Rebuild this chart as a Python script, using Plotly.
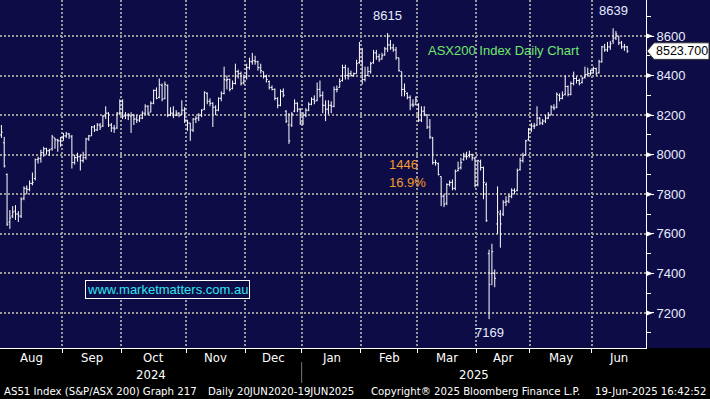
import plotly.graph_objects as go

# ---------------- data (ASX200 daily OHLC, Aug-2024 .. 19-Jun-2025) ----------------
month_names = ["Aug", "Sep", "Oct", "Nov", "Dec", "Jan", "Feb", "Mar", "Apr", "May", "Jun"]
month_bars = [22, 21, 23, 21, 20, 21, 20, 21, 19, 22, 13]
year_names = ["2024", "2025"]
year_months = [5, 6]
y_ticks = [7200, 7400, 7600, 7800, 8000, 8200, 8400, 8600]

opens = [
    8100, 8060, 7900, 7660, 7690, 7715, 7700, 7690, 7780, 7830, 7825, 7855, 7880, 7975, 7980, 8010, 8030, 8020, 8030, 8085, 8075, 8070,
    8085, 8095, 8105, 8090, 7960, 7985, 7990, 7970, 7985, 8080, 8095, 8140, 8125, 8150, 8145, 8195, 8210, 8150, 8135, 8135, 8210,
    8270, 8195, 8200, 8195, 8200, 8180, 8175, 8185, 8210, 8245, 8215, 8260, 8325, 8290, 8350, 8285, 8350, 8200, 8210, 8200, 8210, 8205, 8225,
    8175, 8160, 8125, 8180, 8185, 8200, 8230, 8310, 8270, 8260, 8240, 8225, 8285, 8310, 8375, 8380, 8335, 8360, 8420, 8410, 8365,
    8395, 8440, 8470, 8475, 8470, 8440, 8420, 8395, 8370, 8340, 8330, 8285, 8250, 8320, 8220, 8150, 8150, 8220, 8260, 8230,
    8160, 8200, 8225, 8255, 8280, 8275, 8330, 8300, 8250, 8230, 8250, 8245, 8330, 8340, 8375, 8440, 8400, 8410, 8400, 8410, 8465,
    8470, 8380, 8400, 8420, 8465, 8515, 8495, 8485, 8505, 8535, 8555, 8540, 8530, 8490, 8420, 8330, 8310, 8290, 8255, 8255,
    8255, 8175, 8220, 8200, 8140, 8085, 7960, 7955, 7890, 7790, 7755, 7850, 7860, 7830, 7920, 7935, 7975, 7990, 7995, 8000, 7980,
    7850, 7965, 7935, 7850, 7500, 7400, 7400, 7650, 7700, 7700, 7760, 7765, 7790, 7820, 7820, 7925, 7970, 8000, 8075,
    8125, 8145, 8150, 8185, 8160, 8170, 8185, 8200, 8240, 8240, 8300, 8285, 8305, 8345, 8305, 8360, 8385, 8375, 8365, 8390, 8405, 8410,
    8425, 8435, 8415, 8470, 8545, 8530, 8545, 8575, 8590, 8600, 8565, 8545, 8545,
]
highs = [
    8150, 8090, 7905, 7720, 7740, 7745, 7715, 7785, 7840, 7845, 7870, 7910, 7980, 7990, 8025, 8040, 8035, 8030, 8100, 8085, 8080, 8090,
    8110, 8115, 8110, 8100, 8000, 8010, 8000, 8015, 8085, 8100, 8145, 8150, 8160, 8160, 8200, 8245, 8215, 8160, 8150, 8215, 8280,
    8280, 8215, 8210, 8215, 8205, 8200, 8200, 8220, 8255, 8250, 8270, 8330, 8340, 8385, 8360, 8370, 8355, 8240, 8245, 8225, 8215, 8275, 8240,
    8175, 8160, 8185, 8195, 8210, 8230, 8320, 8315, 8285, 8265, 8250, 8290, 8320, 8445, 8400, 8385, 8375, 8460, 8430, 8420, 8405,
    8460, 8490, 8515, 8500, 8475, 8460, 8420, 8405, 8375, 8350, 8335, 8290, 8330, 8335, 8225, 8210, 8215, 8280, 8265, 8235,
    8215, 8235, 8265, 8290, 8300, 8365, 8375, 8320, 8275, 8275, 8270, 8345, 8350, 8385, 8455, 8455, 8440, 8425, 8415, 8480, 8570,
    8540, 8445, 8445, 8470, 8530, 8530, 8510, 8515, 8545, 8615, 8580, 8560, 8545, 8490, 8420, 8360, 8315, 8300, 8280, 8295,
    8260, 8245, 8245, 8205, 8180, 8090, 7975, 7960, 7890, 7800, 7855, 7870, 7875, 7925, 7965, 7985, 8010, 8015, 8020, 8005, 7990,
    7975, 7975, 7940, 7860, 7520, 7550, 7420, 7840, 7720, 7770, 7790, 7800, 7830, 7830, 7930, 7985, 8010, 8075, 8135,
    8160, 8160, 8245, 8190, 8180, 8200, 8215, 8250, 8255, 8315, 8310, 8320, 8400, 8350, 8370, 8420, 8395, 8385, 8395, 8445, 8440, 8430,
    8445, 8440, 8480, 8550, 8560, 8570, 8575, 8639, 8625, 8600, 8575, 8560, 8550,
]
lows = [
    8085, 7935, 7640, 7625, 7680, 7670, 7660, 7680, 7770, 7800, 7815, 7845, 7870, 7955, 7960, 7990, 8000, 7995, 8020, 8030, 8015, 8040,
    8070, 8085, 8080, 7930, 7950, 7965, 7920, 7960, 7975, 8070, 8095, 8115, 8120, 8125, 8140, 8180, 8140, 8115, 8110, 8130, 8200,
    8180, 8180, 8175, 8110, 8150, 8160, 8165, 8180, 8200, 8200, 8215, 8255, 8280, 8285, 8270, 8280, 8190, 8195, 8185, 8195, 8190, 8200, 8160,
    8120, 8070, 8115, 8160, 8170, 8190, 8225, 8255, 8245, 8140, 8200, 8220, 8270, 8305, 8330, 8320, 8330, 8355, 8385, 8350, 8355,
    8380, 8430, 8455, 8455, 8425, 8410, 8385, 8365, 8330, 8325, 8275, 8235, 8245, 8290, 8160, 8055, 8140, 8215, 8215, 8150,
    8150, 8190, 8220, 8250, 8255, 8270, 8290, 8210, 8170, 8205, 8210, 8240, 8315, 8340, 8370, 8380, 8380, 8395, 8395, 8410, 8460,
    8355, 8370, 8400, 8410, 8460, 8480, 8470, 8480, 8500, 8520, 8530, 8520, 8480, 8420, 8295, 8295, 8280, 8225, 8240, 8250,
    8165, 8165, 8195, 8130, 8080, 7950, 7945, 7895, 7740, 7735, 7745, 7840, 7820, 7820, 7915, 7925, 7970, 7975, 7985, 7970, 7835,
    7840, 7920, 7775, 7660, 7169, 7340, 7330, 7600, 7530, 7690, 7740, 7755, 7780, 7800, 7815, 7920, 7960, 7995, 8070,
    8115, 8130, 8145, 8150, 8150, 8160, 8180, 8200, 8225, 8235, 8270, 8280, 8300, 8295, 8300, 8350, 8360, 8350, 8360, 8385, 8395, 8400,
    8410, 8400, 8410, 8465, 8520, 8520, 8530, 8560, 8580, 8555, 8535, 8525, 8515,
]
closes = [
    8114, 7943, 7649, 7680, 7710, 7700, 7690, 7775, 7830, 7825, 7855, 7860, 7975, 7980, 8010, 8030, 8020, 8025, 8090, 8075, 8070, 8085,
    8095, 8105, 8095, 7960, 7985, 7990, 7970, 7985, 8080, 8095, 8140, 8125, 8150, 8140, 8195, 8210, 8150, 8135, 8130, 8210, 8270,
    8195, 8200, 8200, 8200, 8180, 8175, 8185, 8210, 8245, 8210, 8260, 8325, 8285, 8355, 8280, 8355, 8200, 8210, 8200, 8210, 8200, 8225, 8175,
    8160, 8125, 8180, 8185, 8200, 8225, 8315, 8270, 8260, 8240, 8225, 8285, 8310, 8380, 8380, 8330, 8360, 8420, 8410, 8360, 8390,
    8440, 8470, 8475, 8470, 8440, 8425, 8395, 8380, 8340, 8330, 8285, 8250, 8320, 8300, 8170, 8070, 8205, 8260, 8230, 8160,
    8200, 8225, 8255, 8280, 8270, 8330, 8300, 8250, 8230, 8250, 8245, 8330, 8330, 8370, 8440, 8400, 8410, 8400, 8410, 8460, 8530,
    8380, 8400, 8420, 8460, 8515, 8495, 8480, 8500, 8535, 8555, 8540, 8530, 8490, 8425, 8330, 8320, 8290, 8250, 8250, 8280,
    8175, 8220, 8205, 8140, 8090, 7960, 7960, 7900, 7790, 7750, 7850, 7860, 7830, 7915, 7930, 7960, 7990, 7990, 8000, 7985, 7845,
    7970, 7935, 7860, 7667, 7344, 7510, 7375, 7710, 7650, 7760, 7765, 7790, 7820, 7815, 7920, 7970, 7995, 8070, 8125,
    8145, 8145, 8185, 8160, 8170, 8185, 8200, 8240, 8235, 8305, 8285, 8300, 8345, 8305, 8360, 8385, 8375, 8360, 8385, 8405, 8410, 8425,
    8435, 8410, 8470, 8545, 8530, 8545, 8560, 8590, 8610, 8565, 8545, 8545, 8523.7,
]
last_price = 8523.7

n = sum(month_bars)
assert len(opens) == len(highs) == len(lows) == len(closes) == n, (len(opens), len(highs), len(lows), len(closes), n)

# ---------------- layout constants ----------------
W, H = 710, 399
ML, MR, MT, MB = 0, 64, 0, 51
PW = W - ML - MR          # 646
PH = H - MT - MB          # 348
XMIN, XMAX = -0.5, 228.66
YMIN, YMAX = 7023, 8782
NAVY = "#0e0c46"
GRID = "#9a9a9a"
NARROW = "Liberation Sans Narrow, DejaVu Sans Condensed, Arial Narrow, sans-serif"
SANS = "Liberation Sans, Arial, sans-serif"

def py_to_paper(py):
    return (PH - py) / PH

def px_to_paper(px):
    return px / PW

ypx = (YMAX - YMIN) / PH  # data units per pixel

x = list(range(n))
bounds = []
acc = 0
for m in month_bars[:-1]:
    acc += m
    bounds.append(acc - 0.5)
edges = [XMIN] + bounds + [XMAX]

fig = go.Figure()
fig.add_trace(go.Ohlc(
    x=x, open=opens, high=highs, low=lows, close=closes,
    increasing=dict(line=dict(color="white", width=1)),
    decreasing=dict(line=dict(color="white", width=1)),
    tickwidth=0.45, hoverinfo="skip", showlegend=False,
))

shapes = []
# navy strip behind the right axis
shapes.append(dict(type="rect", xref="paper", yref="paper", x0=1.0, x1=W / PW, y0=0, y1=1,
                   fillcolor=NAVY, line=dict(width=0), layer="below"))
# right-pointing triangles at major y ticks
for v in y_ticks:
    shapes.append(dict(type="path", xref="paper", yref="y",
                       path=f"M 1.0,{v - 2.8 * ypx} L {px_to_paper(653)},{v} L 1.0,{v + 2.8 * ypx} Z",
                       fillcolor="white", line=dict(color="white", width=0)))
# last-price tag
h = 8.3 * ypx
shapes.append(dict(type="path", xref="paper", yref="y",
                   path=(f"M {px_to_paper(647)},{last_price} L {px_to_paper(654)},{last_price + h} "
                         f"L {px_to_paper(709)},{last_price + h} L {px_to_paper(709)},{last_price - h} "
                         f"L {px_to_paper(654)},{last_price - h} Z"),
                   fillcolor="white", line=dict(color="#333333", width=1)))
# separator between years
shapes.append(dict(type="line", xref="x", yref="paper", x0=bounds[4], x1=bounds[4],
                   y0=py_to_paper(362), y1=py_to_paper(383), line=dict(color="#777777", width=1)))

ann = []
# month labels
for i, name in enumerate(month_names):
    ann.append(dict(x=(edges[i] + edges[i + 1]) / 2, y=py_to_paper(357), xref="x", yref="paper",
                    text=name, showarrow=False, xanchor="center", yanchor="middle",
                    font=dict(family=NARROW, size=13, color="white")))
# year labels
start = 0
for yn, cnt in zip(year_names, year_months):
    ann.append(dict(x=(edges[start] + edges[start + cnt]) / 2, y=py_to_paper(374), xref="x", yref="paper",
                    text=yn, showarrow=False, xanchor="center", yanchor="middle",
                    font=dict(family=NARROW, size=13, color="white")))
    start += cnt
# footer
footer = [
    ("AS51 Index (S&P/ASX 200) Graph 217", 2, "left"),
    ("Daily 20JUN2020-19JUN2025", 206, "left"),
    ("Copyright\u00ae 2025 Bloomberg Finance L.P.", 369, "left"),
    ("19-Jun-2025 16:42:52", 709, "right"),
]
for txt, px, anc in footer:
    ann.append(dict(x=px_to_paper(px), y=py_to_paper(391), xref="paper", yref="paper", text=txt,
                    showarrow=False, xanchor=anc, yanchor="middle",
                    font=dict(family=NARROW, size=11.3, color="white")))

# high / low labels
i_hi = max(range(n), key=lambda k: highs[k])
i_lo = min(range(n), key=lambda k: lows[k])
i_feb = max(range(127, 148), key=lambda k: highs[k])
LBL = "#e4ebff"
ann.append(dict(x=i_feb, y=highs[i_feb], text=f"{highs[i_feb]:.0f}", showarrow=False, yanchor="bottom",
                yshift=8, font=dict(family=SANS, size=13, color=LBL)))
ann.append(dict(x=i_hi, y=highs[i_hi], text=f"{highs[i_hi]:.0f}", showarrow=False, yanchor="bottom",
                yshift=8, font=dict(family=SANS, size=13, color=LBL)))
ann.append(dict(x=i_lo, y=lows[i_lo], text=f"{lows[i_lo]:.0f}", showarrow=False, yanchor="top",
                yshift=-4, font=dict(family=SANS, size=13, color=LBL)))
ORANGE = "#f39a2b"
ann.append(dict(x=136.8, y=7953, text=f"{highs[i_feb] - lows[i_lo]:.0f}", showarrow=False, xanchor="left",
                yanchor="middle", font=dict(family=SANS, size=13, color=ORANGE)))
ann.append(dict(x=136.8, y=7862, text="16.9%", showarrow=False, xanchor="left",
                yanchor="middle", font=dict(family=SANS, size=13, color=ORANGE)))
ann.append(dict(x=px_to_paper(426), y=py_to_paper(50), xref="paper", yref="paper",
                text="ASX200 Index Daily Chart", showarrow=False, xanchor="left", yanchor="middle",
                font=dict(family=SANS, size=13, color="#6ee86e")))
ann.append(dict(x=px_to_paper(167), y=py_to_paper(289.5), xref="paper", yref="paper",
                text="www.marketmatters.com.au", showarrow=False, xanchor="center", yanchor="middle",
                bordercolor="white", borderwidth=1, borderpad=1, bgcolor=NAVY,
                font=dict(family=SANS, size=13, color="#2fe6f2")))
# last price text
ann.append(dict(x=px_to_paper(681.5), y=last_price, xref="paper", yref="y", text=f"{last_price:.3f}",
                showarrow=False, xanchor="center", yanchor="middle",
                font=dict(family=SANS, size=12.5, color="black")))

fig.update_layout(
    width=W, height=H,
    margin=dict(l=ML, r=MR, t=MT, b=MB, pad=0, autoexpand=False),
    paper_bgcolor="black", plot_bgcolor=NAVY,
    showlegend=False, shapes=shapes, annotations=ann,
    xaxis=dict(range=[XMIN, XMAX], rangeslider=dict(visible=False), tickmode="array", tickvals=bounds,
               showticklabels=False, ticks="outside", ticklen=4, tickcolor="white", tickwidth=1,
               showgrid=True, gridcolor=GRID, gridwidth=1.5, griddash="2px,2px",
               showline=True, linecolor="white", linewidth=1, zeroline=False, fixedrange=True),
    yaxis=dict(range=[YMIN, YMAX], side="right", tickmode="array", tickvals=y_ticks,
               ticks="outside", ticklen=7, tickcolor="white", tickwidth=1,
               minor=dict(dtick=100, tick0=7100, ticks="outside", ticklen=4, tickcolor="white", showgrid=False),
               showgrid=True, gridcolor=GRID, gridwidth=1.5, griddash="2px,2px",
               showline=True, linecolor="white", linewidth=1, zeroline=False,
               tickfont=dict(family=SANS, size=13, color="#e8ecff"), fixedrange=True),
)

fig.write_html("out.html", config={"displayModeBar": False})

# remove the browser's default page margin so the figure sits at the window corner
with open("out.html", "r", encoding="utf-8") as f:
    page = f.read()
page = page.replace("<head>", "<head><style>html,body{margin:0;padding:0;background:#000;overflow:hidden;}</style>", 1)
with open("out.html", "w", encoding="utf-8") as f:
    f.write(page)
